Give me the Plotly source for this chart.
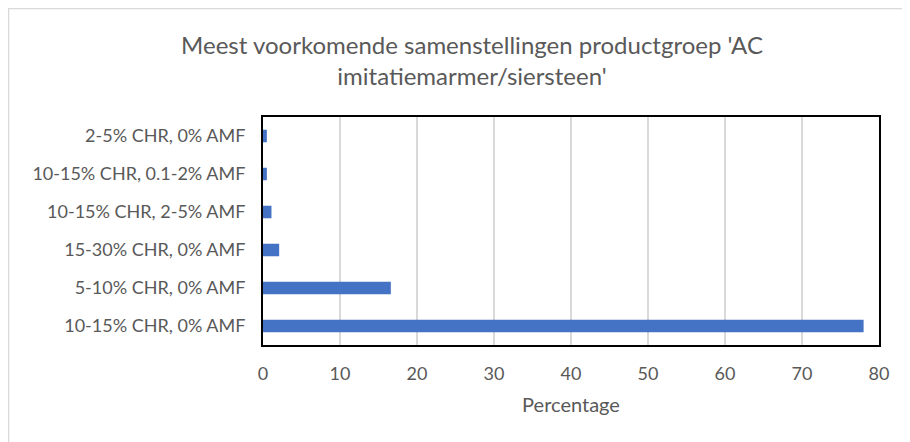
import plotly.graph_objects as go

categories = [
    "10-15% CHR, 0% AMF",
    "5-10% CHR, 0% AMF",
    "15-30% CHR, 0% AMF",
    "10-15% CHR, 2-5% AMF",
    "10-15% CHR, 0.1-2% AMF",
    "2-5% CHR, 0% AMF",
]
percentages = [78.0, 16.6, 2.1, 1.1, 0.5, 0.5]
x_ticks = [0, 10, 20, 30, 40, 50, 60, 70, 80]

FONT = "Lato"
GREY = "#595959"

# page body has an 8px margin, so plot-area pixels are offset by it
W, H = 910, 442
L, R, T, B = 255, 39, 109, 105

fig = go.Figure(go.Bar(
    y=categories, x=percentages, orientation="h",
    marker=dict(color="#4472C4", line=dict(width=0)),
    width=0.33,
))

# outer chart frame (left/top edges visible, rest runs off the picture)
pw, ph = W - L - R, H - T - B
fig.add_shape(type="rect", xref="paper", yref="paper",
              x0=(0.5 - L) / pw, x1=(W + 20 - L) / pw,
              y0=-(B + 20) / ph, y1=(H - B - 0.5) / ph,
              line=dict(color="#d9d9d9", width=1.5), layer="below")

fig.update_layout(
    width=W, height=H,
    margin=dict(l=L, r=R, t=T, b=B),
    paper_bgcolor="white", plot_bgcolor="white",
    showlegend=False,
    font=dict(family=FONT, color=GREY, size=16),
    title=dict(
        text="Meest voorkomende samenstellingen productgroep 'AC<br>imitatiemarmer/siersteen'",
        x=464 / W, xanchor="center", xref="container",
        y=1 - 46 / H, yanchor="middle", yref="container",
        font=dict(family=FONT, size=24, color=GREY),
    ),
    xaxis=dict(
        range=[0, 80], tickvals=x_ticks, showgrid=True,
        gridcolor="#d9d9d9", gridwidth=2,
        showline=True, linecolor="black", linewidth=2, mirror=True,
        zeroline=False, ticks="", ticklabelstandoff=11,
        tickfont=dict(family=FONT, size=18, color=GREY),
        title=dict(text="Percentage", standoff=15,
                   font=dict(family=FONT, size=20, color=GREY)),
        fixedrange=True,
    ),
    yaxis=dict(
        showgrid=False, showline=True, linecolor="black", linewidth=2,
        mirror=True, ticks="", ticklabelstandoff=12,
        tickfont=dict(family=FONT, size=18, color=GREY),
        categoryorder="array", categoryarray=categories,
        fixedrange=True,
    ),
)

fig.write_html("out.html")
